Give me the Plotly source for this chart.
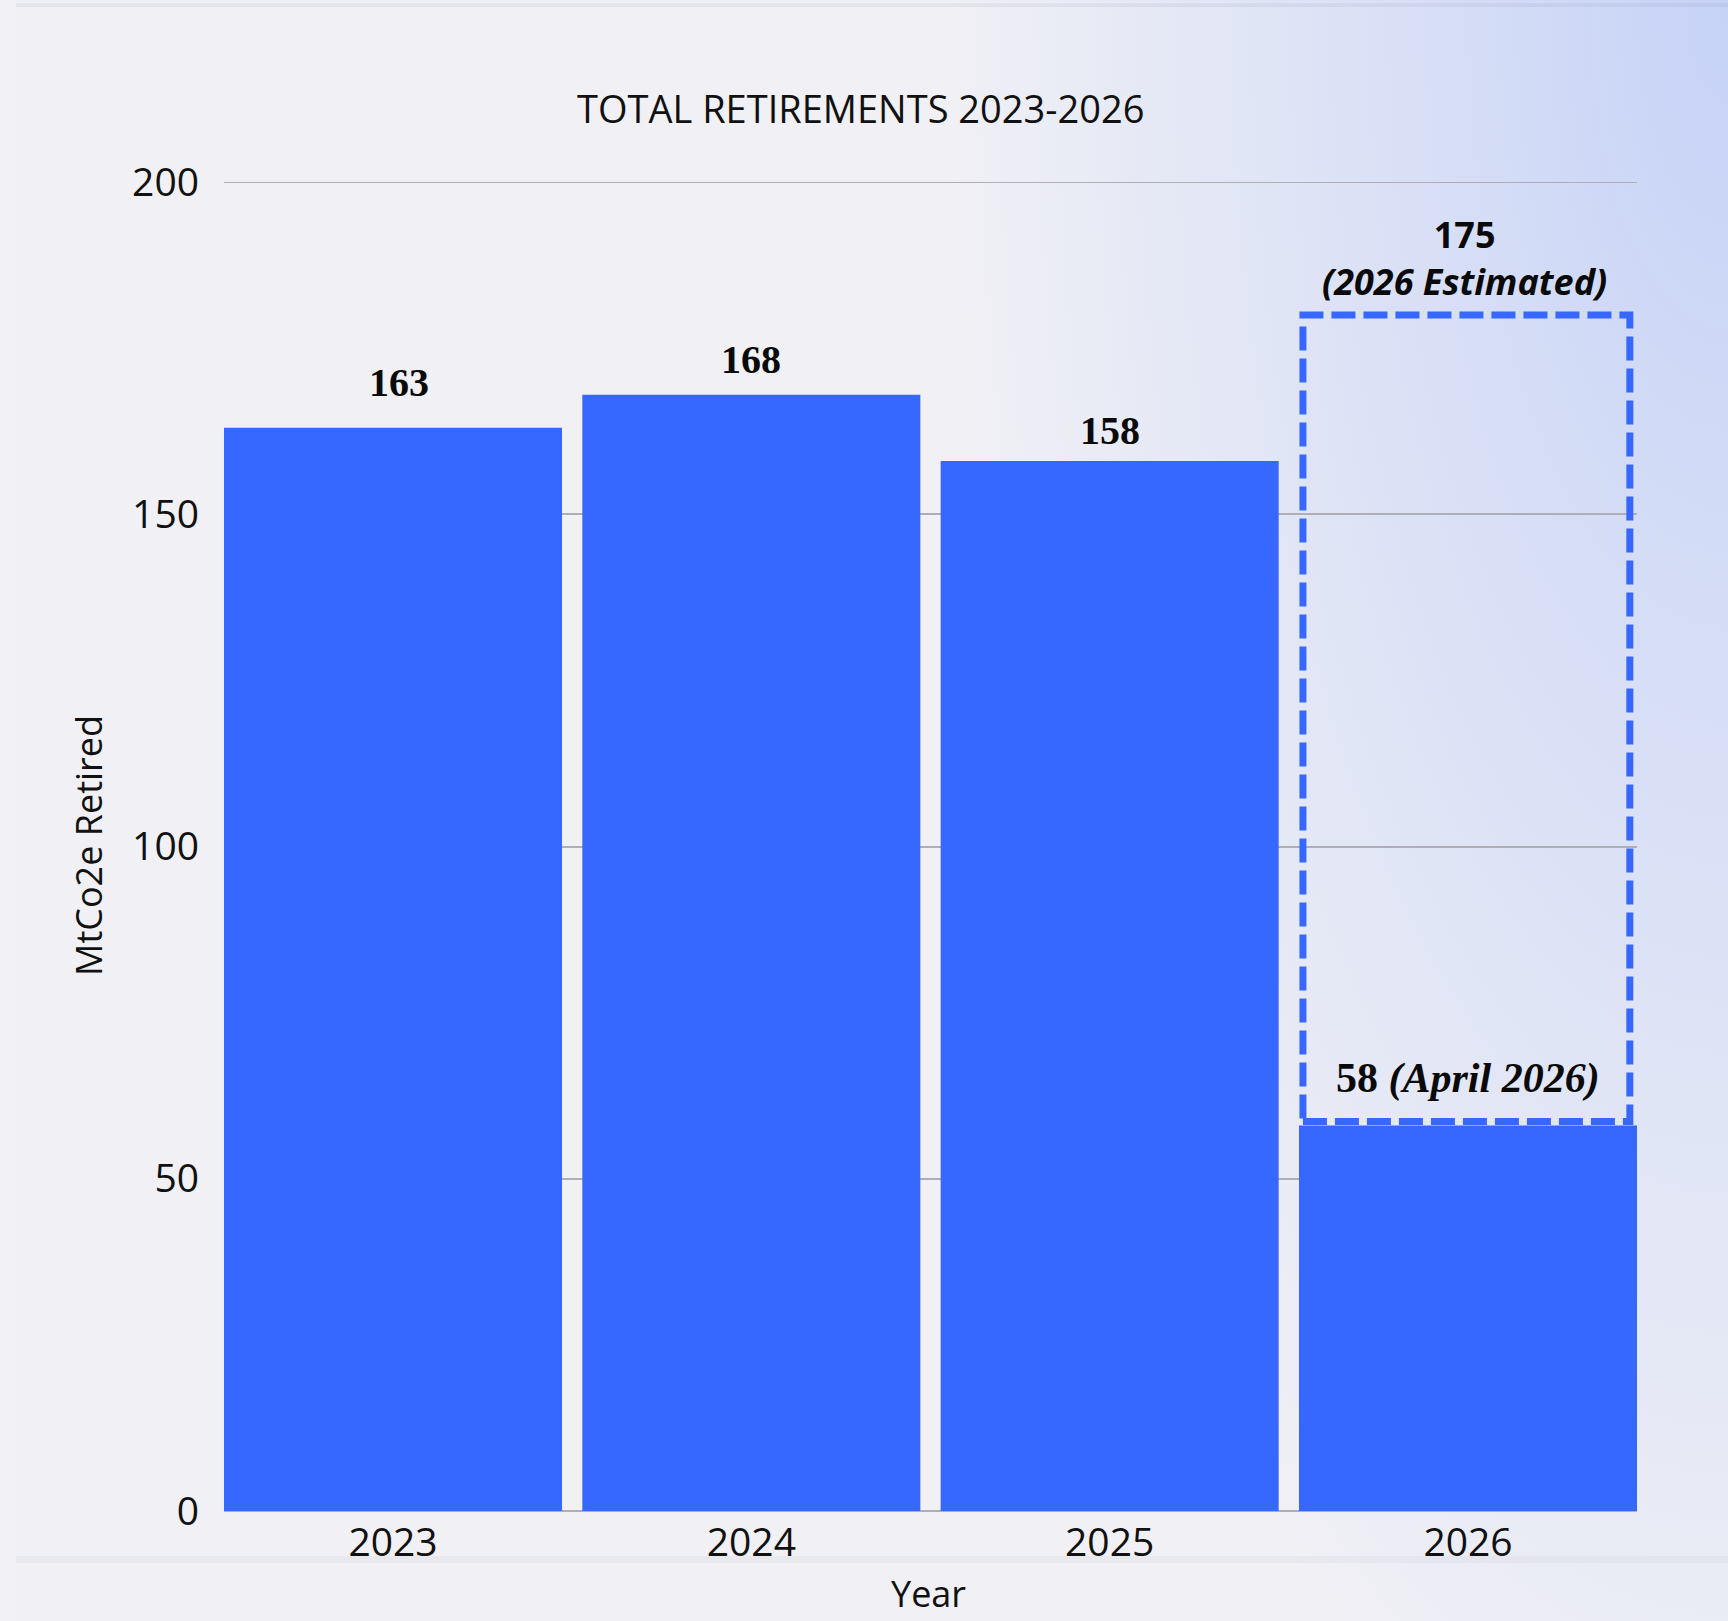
import base64
import plotly.graph_objects as go

# ---- data ----
years = ["2023", "2024", "2025", "2026"]
retired = [163, 168, 158, 58]
value_labels = ["163", "168", "158", "58 (April 2026)"]
estimate_2026 = 175
estimate_box_top = 180          # top of the dashed "estimated" outline
estimate_label = "(2026 Estimated)"
y_ticks = [0, 50, 100, 150, 200]

W, H = 1728, 1621
BLUE = "#3667FF"
GRID = "#aeaeb6"

# plot area in pixels
PL, PR, PT, PB = 224, 1637, 182, 1511
BARGAP = 0.0567
half = (1 - BARGAP) / 2

def px_x(p):
    return p / W

def px_y(p):
    return (H - p) / H

# background gradient as inline SVG
svg = f"""<svg xmlns='http://www.w3.org/2000/svg' width='{W}' height='{H}' viewBox='0 0 {W} {H}' preserveAspectRatio='none'>
<defs>
<radialGradient id='g' gradientUnits='userSpaceOnUse' cx='{W}' cy='0' r='780'
 gradientTransform='translate({W} 0) scale(1 2.4) translate(-{W} 0)'>
<stop offset='0' stop-color='#c6d2f7'/>
<stop offset='0.35' stop-color='#d6def6'/>
<stop offset='1' stop-color='#f0f0f5'/>
</radialGradient>
</defs>
<rect width='{W}' height='{H}' fill='#f0f0f5'/>
<rect width='{W}' height='{H}' fill='url(#g)'/>
</svg>"""
src = "data:image/svg+xml;base64," + base64.b64encode(svg.encode()).decode()

fig = go.Figure()
fig.add_trace(go.Bar(
    x=list(range(len(years))), y=retired,
    marker=dict(color=BLUE, line=dict(width=0)),
    hoverinfo="skip", showlegend=False,
))

shapes = [
    # screenshot frame strips
    dict(type="rect", xref="paper", yref="paper", x0=px_x(16), x1=1, y0=px_y(7), y1=px_y(3),
         fillcolor="rgba(90,95,130,0.08)", line=dict(width=0), layer="below"),
    dict(type="rect", xref="paper", yref="paper", x0=px_x(16), x1=1, y0=px_y(1563), y1=px_y(1556),
         fillcolor="rgba(90,95,130,0.05)", line=dict(width=0), layer="below"),
    dict(type="rect", xref="paper", yref="paper", x0=0, x1=px_x(16), y0=0, y1=1,
         fillcolor="rgba(255,255,255,0.15)", line=dict(width=0), layer="below"),
    # top gridline at 200
    dict(type="line", xref="x domain", yref="y", x0=0, x1=1, y0=y_ticks[-1], y1=y_ticks[-1],
         line=dict(color=GRID, width=2), layer="below"),
    # dashed estimate outline for 2026
    dict(type="rect", xref="x", yref="y",
         x0=3 - half + 0.011, x1=3 + half - 0.02,
         y0=retired[3] + 0.6, y1=estimate_box_top,
         line=dict(color=BLUE, width=7, dash="24px,8px"),
         fillcolor="rgba(0,0,0,0)", layer="above"),
]

annotations = []
label_shift = [21, 11, 6, 22]
for i, (v, t) in enumerate(zip(retired, value_labels)):
    if i < 3:
        txt = f"<b>{t}</b>"
        size = 40
    else:
        txt = "<b>58 <i>(April 2026)</i></b>"
        size = 42
    annotations.append(dict(
        x=i, y=v, xref="x", yref="y", text=txt, showarrow=False,
        yanchor="bottom", yshift=label_shift[i], xshift=6 if i == 0 else 0,
        font=dict(family="Liberation Serif", size=size, color="#0a0a0a"),
    ))
annotations.append(dict(
    x=3, y=estimate_box_top, xref="x", yref="y",
    text=f"<b>{estimate_2026}</b><br><b><i>{estimate_label}</i></b>",
    showarrow=False, yanchor="middle", yshift=57, xshift=-3,
    font=dict(family="Open Sans", size=36, color="#0a0a0a"),
))
annotations.append(dict(
    x=px_x(860), y=px_y(108), xref="paper", yref="paper", text="TOTAL RETIREMENTS 2023-2026",
    showarrow=False, xanchor="center", yanchor="middle",
    font=dict(family="Open Sans", size=38, color="#111111"),
))
annotations.append(dict(
    x=px_x(88), y=px_y(846), xref="paper", yref="paper", text="MtCo2e Retired",
    textangle=-90, showarrow=False, xanchor="center", yanchor="middle",
    font=dict(family="Open Sans", size=36, color="#111111"),
))
annotations.append(dict(
    x=px_x(929), y=0, xref="paper", yref="paper", text="Year",
    showarrow=False, xanchor="center", yanchor="bottom", yshift=1,
    font=dict(family="Open Sans", size=36, color="#111111"),
))

fig.update_layout(
    width=W, height=H,
    margin=dict(l=0, r=0, t=0, b=0, pad=0),
    paper_bgcolor="#f0f0f5", plot_bgcolor="rgba(0,0,0,0)",
    bargap=BARGAP,
    xaxis=dict(domain=[px_x(PL), px_x(PR)], range=[-half, 3 + half], automargin=False,
               tickmode="array", tickvals=list(range(len(years))), ticktext=years,
               showgrid=False, zeroline=False, showline=False, ticks="",
               ticklabelstandoff=5,
               tickfont=dict(family="Open Sans", size=39, color="#111111")),
    yaxis=dict(domain=[px_y(PB), px_y(PT)], range=[0, 200], automargin=False,
               tickmode="array", tickvals=y_ticks,
               showgrid=True, gridcolor=GRID, gridwidth=2,
               zeroline=True, zerolinecolor=GRID, zerolinewidth=2,
               showline=False, ticks="", ticklabelstandoff=24,
               tickfont=dict(family="Open Sans", size=39, color="#111111")),
    shapes=shapes,
    annotations=annotations,
    images=[dict(source=src, xref="paper", yref="paper", x=0, y=1, sizex=1, sizey=1,
                 xanchor="left", yanchor="top", sizing="stretch", layer="below")],
    font=dict(family="Open Sans"),
)

fig.write_html(
    "out.html",
    config={"displayModeBar": False},
    post_script="document.body.style.margin='0';document.body.style.background='#f0f0f5';",
)
